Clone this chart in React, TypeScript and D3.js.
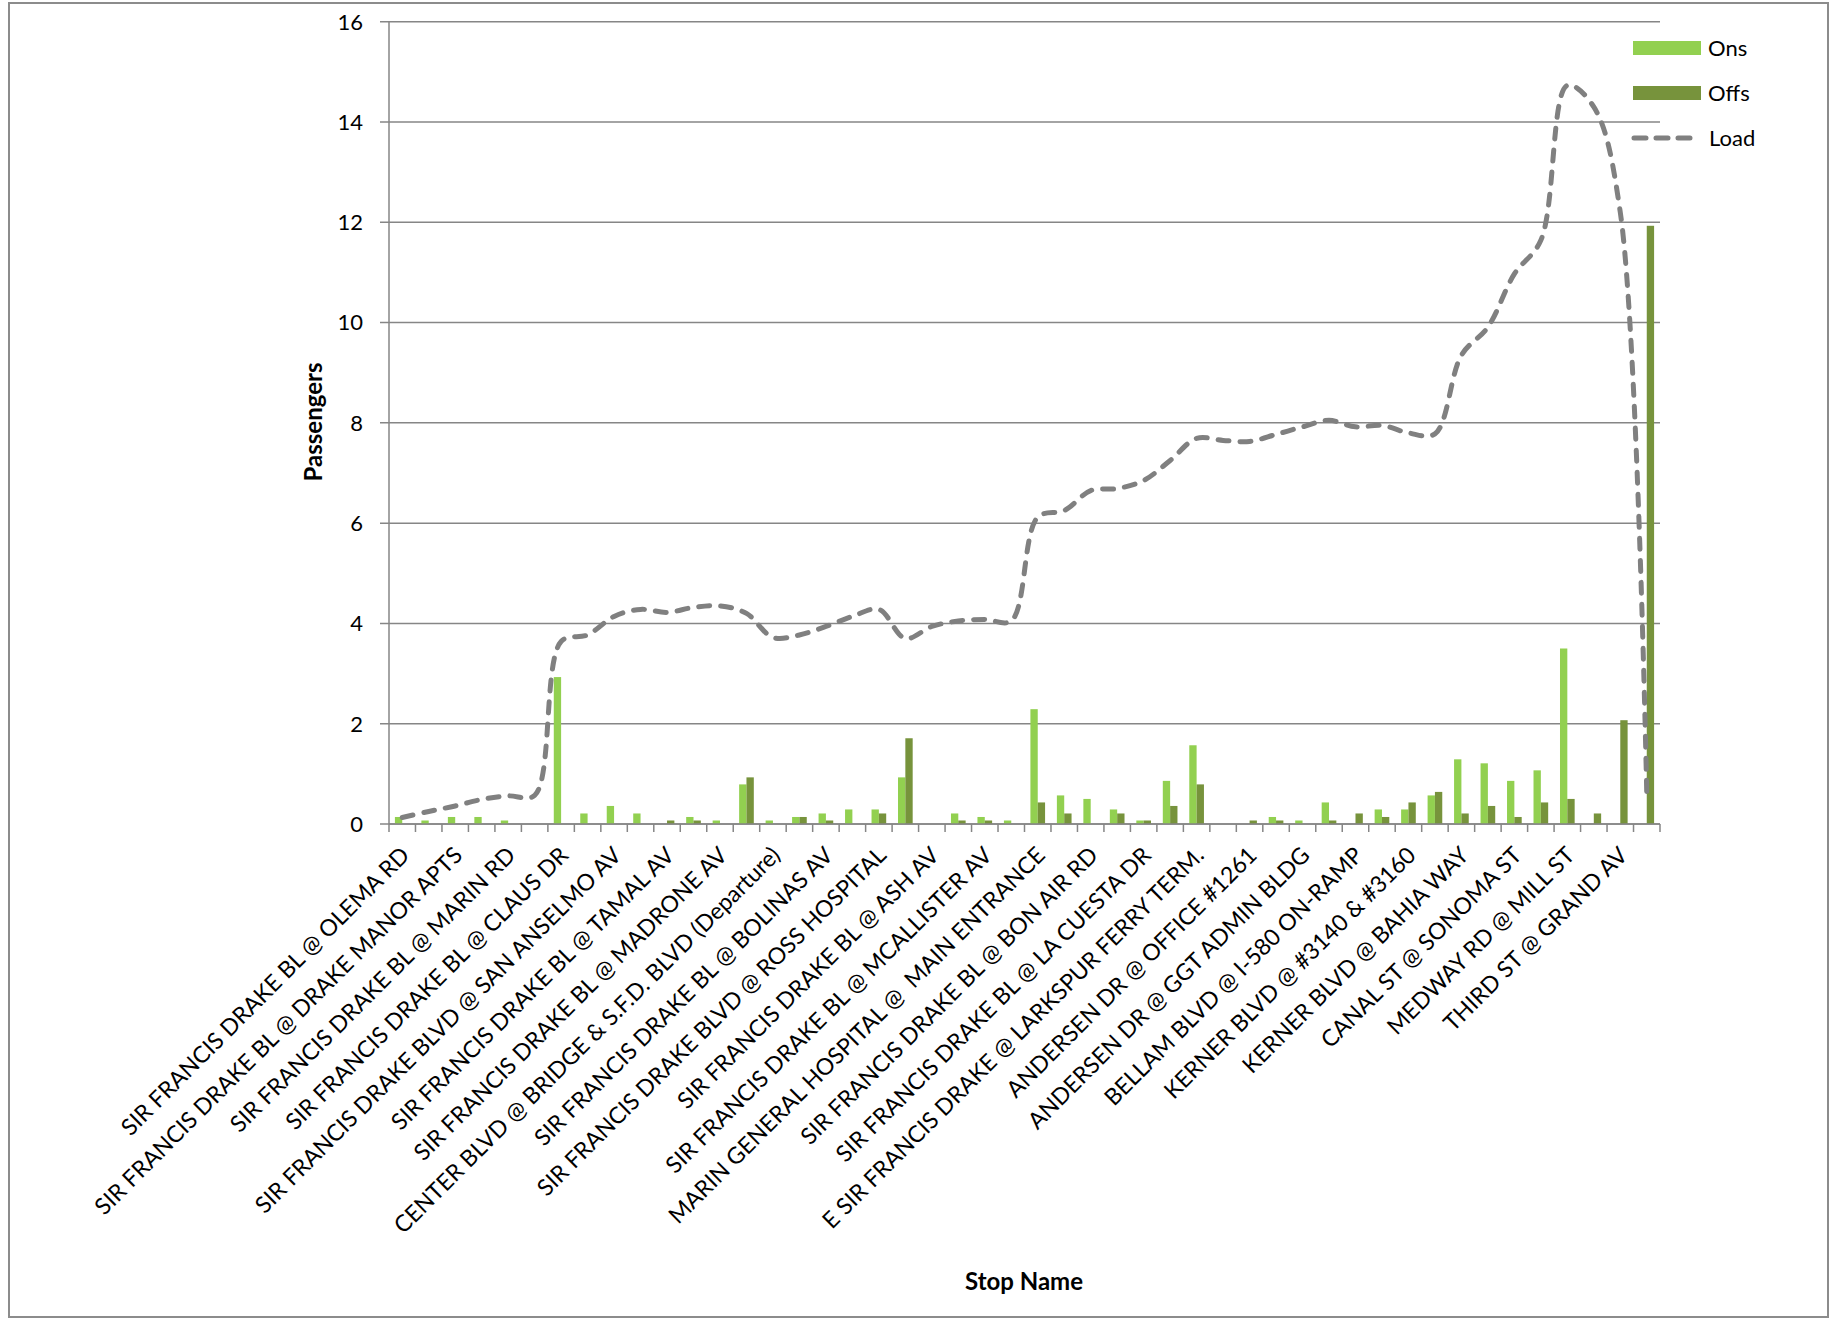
import React from "react";
import * as d3 from "d3";

// stop names (only every other one is printed on the axis)
const stops = [
  "SIR FRANCIS DRAKE BL @ OLEMA RD", "",
  "SIR FRANCIS DRAKE BL @ DRAKE MANOR APTS", "",
  "SIR FRANCIS DRAKE BL @ MARIN RD", "",
  "SIR FRANCIS DRAKE BL @ CLAUS DR", "",
  "SIR FRANCIS DRAKE BLVD @ SAN ANSELMO AV", "",
  "SIR FRANCIS DRAKE BL @ TAMAL AV", "",
  "SIR FRANCIS DRAKE BL @ MADRONE AV", "",
  "CENTER BLVD @ BRIDGE & S.F.D. BLVD (Departure)", "",
  "SIR FRANCIS DRAKE BL @ BOLINAS AV", "",
  "SIR FRANCIS DRAKE BLVD @ ROSS HOSPITAL", "",
  "SIR FRANCIS DRAKE BL @ ASH AV", "",
  "SIR FRANCIS DRAKE BL @ MCALLISTER AV", "",
  "MARIN GENERAL HOSPITAL @  MAIN ENTRANCE", "",
  "SIR FRANCIS DRAKE BL @ BON AIR RD", "",
  "SIR FRANCIS DRAKE BL @ LA CUESTA DR", "",
  "E SIR FRANCIS DRAKE @ LARKSPUR FERRY TERM.", "",
  "ANDERSEN DR @ OFFICE #1261", "",
  "ANDERSEN DR @ GGT ADMIN BLDG", "",
  "BELLAM BLVD @ I-580 ON-RAMP", "",
  "KERNER BLVD @ #3140 & #3160", "",
  "KERNER BLVD @ BAHIA WAY", "",
  "CANAL ST @ SONOMA ST", "",
  "MEDWAY RD @ MILL ST", "",
  "THIRD ST @ GRAND AV", "",
];

const ons = [
  0.14, 0.07, 0.14, 0.14, 0.07, 0, 2.93, 0.21, 0.36, 0.21, 0, 0.14,
  0.07, 0.79, 0.07, 0.14, 0.21, 0.29, 0.29, 0.93, 0, 0.21, 0.14, 0.07,
  2.29, 0.57, 0.5, 0.29, 0.07, 0.86, 1.57, 0, 0, 0.14, 0.07, 0.43,
  0, 0.29, 0.29, 0.57, 1.29, 1.21, 0.86, 1.07, 3.5, 0, 0, 0,
];

const offs = [
  0, 0, 0, 0, 0, 0, 0, 0, 0, 0, 0.07, 0.07,
  0, 0.93, 0, 0.14, 0.07, 0, 0.21, 1.71, 0, 0.07, 0.07, 0,
  0.43, 0.21, 0, 0.21, 0.07, 0.36, 0.79, 0, 0.07, 0.07, 0, 0.07,
  0.21, 0.14, 0.43, 0.64, 0.21, 0.36, 0.14, 0.43, 0.5, 0.21, 2.07, 11.93,
];

const load = [
  0.13, 0.25, 0.36, 0.49, 0.56, 0.57, 3.64, 3.77, 4.14, 4.28, 4.22, 4.32,
  4.35, 4.2, 3.72, 3.77, 3.94, 4.14, 4.28, 3.7, 3.94, 4.05, 4.08, 4.05,
  6.12, 6.25, 6.65, 6.69, 6.85, 7.25, 7.69, 7.65, 7.63, 7.77, 7.92, 8.05,
  7.92, 7.95, 7.8, 7.78, 9.35, 9.91, 10.97, 11.64, 14.73, 14.3, 12.2, 0.6,
];

const yTicks = [0, 2, 4, 6, 8, 10, 12, 14, 16];
const seriesNames = ["Ons", "Offs", "Load"];

const W = 1835;
const H = 1320;
const left = 389;
const right = 1660;
const top = 21.7;
const bottom = 824;

const onsColor = "#92D050";
const offsColor = "#77933C";
const lineColor = "#808080";
const axisColor = "#868686";
const font = "Lato, 'Liberation Sans', sans-serif";

export default function App() {
  const idx = d3.range(stops.length);

  const x = d3
    .scaleBand<number>()
    .domain(idx)
    .range([left, right])
    .paddingInner(0.446)
    .paddingOuter(0.223);

  const x1 = d3
    .scaleBand<string>()
    .domain(["Ons", "Offs"])
    .range([0, x.bandwidth()]);

  const y = d3.scaleLinear().domain([0, 16]).range([bottom, top]);

  const step = x.step();
  const center = (i: number) => (x(i) as number) + x.bandwidth() / 2;

  const linePath = d3
    .line<number>()
    .x((_, i) => center(i))
    .y((d) => y(d))
    .curve(d3.curveCatmullRom.alpha(0.5))(load);

  return (
    <div style={{ position: "absolute", left: 0, top: 0 }}>
      <svg width={W} height={H} style={{ display: "block", background: "#fff" }} fontFamily={font}>
        {/* outer frame */}
        <rect x={9} y={3} width={1819} height={1314} fill="none" stroke="#8c8c8c" strokeWidth={2} />

        {/* gridlines + y ticks */}
        {yTicks.map((t) => (
          <g key={t}>
            <line x1={left - 9} x2={right} y1={y(t)} y2={y(t)} stroke={axisColor} strokeWidth={1.5} />
            <text x={363} y={y(t)} dy="0.36em" textAnchor="end" fontSize={22} fill="#000">
              {t}
            </text>
          </g>
        ))}

        {/* y axis */}
        <line x1={left} x2={left} y1={top} y2={bottom} stroke={axisColor} strokeWidth={1.5} />

        {/* bars */}
        {idx.map((i) => (
          <g key={i} transform={`translate(${x(i)},0)`}>
            {ons[i] > 0 && (
              <rect x={x1("Ons")} y={y(ons[i])} width={x1.bandwidth()} height={bottom - y(ons[i])} fill={onsColor} />
            )}
            {offs[i] > 0 && (
              <rect x={x1("Offs")} y={y(offs[i])} width={x1.bandwidth()} height={bottom - y(offs[i])} fill={offsColor} />
            )}
          </g>
        ))}

        {/* x axis */}
        <line x1={left} x2={right} y1={bottom} y2={bottom} stroke={axisColor} strokeWidth={1.5} />
        {d3.range(stops.length + 1).map((k) => (
          <line key={k} x1={left + k * step} x2={left + k * step} y1={bottom} y2={bottom + 8} stroke={axisColor} strokeWidth={1.5} />
        ))}

        {/* category labels */}
        {idx.map((i) =>
          stops[i] ? (
            <text
              key={i}
              transform={`translate(${center(i) + 3},${bottom + 27}) rotate(-45)`}
              textAnchor="end"
              dy="0.35em"
              fontSize={23}
              fill="#000"
              style={{ whiteSpace: "pre" }}
            >
              {stops[i]}
            </text>
          ) : null
        )}

        {/* load line */}
        <path
          d={linePath ?? ""}
          fill="none"
          stroke={lineColor}
          strokeWidth={5}
          strokeDasharray="11 11"
          strokeLinecap="round"
        />

        {/* axis titles */}
        <text x={1024} y={1290} textAnchor="middle" fontSize={24} fontWeight="bold" fill="#000">
          Stop Name
        </text>
        <text
          transform={`translate(322,422) rotate(-90)`}
          textAnchor="middle"
          fontSize={24}
          fontWeight="bold"
          fill="#000"
        >
          Passengers
        </text>

        {/* legend */}
        <g>
          <rect x={1633} y={41} width={68} height={14} fill={onsColor} />
          <text x={1708} y={48} dy="0.36em" fontSize={22} fill="#000">{seriesNames[0]}</text>
          <rect x={1633} y={86} width={68} height={14} fill={offsColor} />
          <text x={1708} y={93} dy="0.36em" fontSize={22} fill="#000">{seriesNames[1]}</text>
          <line x1={1634} x2={1692} y1={138} y2={138} stroke={lineColor} strokeWidth={5} strokeDasharray="12 10" strokeLinecap="round" />
          <text x={1709} y={138} dy="0.36em" fontSize={22} fill="#000">{seriesNames[2]}</text>
        </g>
      </svg>
    </div>
  );
}
